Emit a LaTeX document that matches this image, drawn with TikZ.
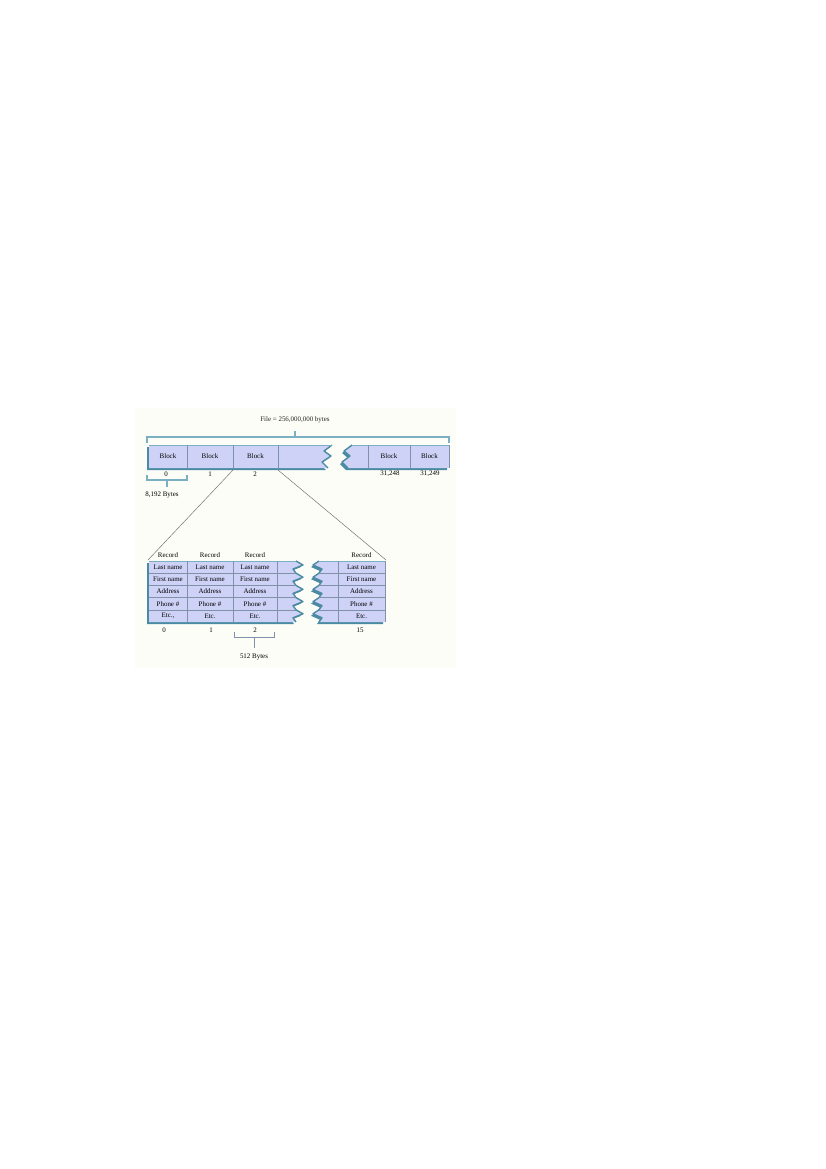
\documentclass[tikz,border=0pt]{standalone}
\usepackage{fontspec}
\setmainfont{Liberation Serif}
\usepackage{xcolor}
\definecolor{paperwhite}{RGB}{253,253,247}
\definecolor{blocklilac}{RGB}{205,210,246}
\definecolor{edgeteal}{RGB}{74,138,163}
\definecolor{braceteal}{RGB}{122,176,194}
\definecolor{gridgray}{RGB}{128,146,170}

\begin{document}
\begin{tikzpicture}[x=0.72pt,y=-0.72pt,font=\fontsize{5}{6}\selectfont]
            \useasboundingbox (0,0) rectangle (826,1169);
            \fill[paperwhite] (135,408) rectangle (456,668);

            % file and its brace
            \node[black!85] (title) at (295,420) {File = 256,000,000 bytes};
            \draw[braceteal,thick] (147,443) -- (147,437) -- (449,437) -- (449,443);
            \draw[braceteal,thick] (295,437) -- (295,431);

            % block row, left part
            \fill[edgeteal] (147,447) -- (330,447) -- (322,453) -- (329,458) -- (320,464) -- (326,470) -- (147,470) -- cycle;
            \fill[blocklilac] (149,445) -- (332,445) -- (324,451) -- (331,456) -- (322,462) -- (328,468) -- (149,468) -- cycle;
            \draw[edgeteal,line width=1pt,line join=round] (332,445) -- (324,451) -- (331,456) -- (322,462) -- (328,468);
            \draw[braceteal] (149,445) -- (332,445);
            \draw[gridgray] (187,445) -- (187,468);
            \draw[gridgray] (233,445) -- (233,468);
            \draw[gridgray] (278,445) -- (278,468);

            % block row, right part
            \fill[edgeteal] (350,447) -- (447,447) -- (447,470) -- (346,470) -- (340,464) -- (348,458) -- (342,453) -- cycle;
            \fill[blocklilac] (352,445) -- (449,445) -- (449,468) -- (348,468) -- (342,462) -- (350,456) -- (344,451) -- cycle;
            \draw[edgeteal,line width=1pt,line join=round] (352,445) -- (344,451) -- (350,456) -- (342,462) -- (348,468);
            \draw[braceteal] (352,445) -- (449,445);
            \draw[gridgray] (368,445) -- (368,468);
            \draw[gridgray] (410,445) -- (410,468);
            \draw[gridgray] (449,445) -- (449,468);

            \node (blk0) at (168,456.5) {Block};
            \node (blk1) at (210,456.5) {Block};
            \node (blk2) at (255.5,456.5) {Block};
            \node (blk31248) at (389,456.5) {Block};
            \node (blk31249) at (429.5,456.5) {Block};

            \node (num0) at (166,474) {0};
            \node (num1) at (210,474) {1};
            \node (num2) at (255,474) {2};
            \node (num31248) at (390,474) {31,248};
            \node (num31249) at (430,474) {31,249};

            % size of one block
            \draw[braceteal,thick] (147,475) -- (147,480) -- (187,480) -- (187,475);
            \draw[braceteal,thick] (167,480) -- (167,487);
            \node (blksize) at (162,495) {8,192 Bytes};

            % zoom lines
            \coordinate (gapa) at (233,470);
            \coordinate (gapb) at (278,470);
            \coordinate (recnw) at (148,560);
            \coordinate (recne) at (386,560);
            \draw[black!55,line width=0.35pt] (gapa) -- (recnw);
            \draw[black!55,line width=0.35pt] (gapb) -- (recne);

            % record table, left part
            \fill[edgeteal,shift={(-2,2)}] (149,561) \foreach \r in {0,...,4} {-- (296,{561+12.2*\r}) -- (303,{565+12.2*\r}) -- (293,{569+12.2*\r})} -- (296,622) -- (149,622) -- cycle;
            \fill[blocklilac] (149,561) \foreach \r in {0,...,4} {-- (296,{561+12.2*\r}) -- (303,{565+12.2*\r}) -- (293,{569+12.2*\r})} -- (296,622) -- (149,622) -- cycle;
            \draw[edgeteal,line width=1pt,line join=round] (296,561) \foreach \r in {0,...,4} {-- (303,{565+12.2*\r}) -- (293,{569+12.2*\r}) -- (296,{573.2+12.2*\r})};
            \draw[braceteal] (149,561) -- (296,561);
            \foreach \r in {1,...,4}
                \draw[gridgray] (149,{561+12.2*\r}) -- (296,{561+12.2*\r});
            \foreach \cx in {187,233,277}
                \draw[gridgray] (\cx,561) -- (\cx,622);

            % record table, right part
            \fill[edgeteal,shift={(-2,2)}] (319,561) -- (385,561) -- (385,622) -- (319,622) \foreach \r in {4,...,0} {-- (322,{569+12.2*\r}) -- (313,{565+12.2*\r}) -- (319,{561+12.2*\r})} -- cycle;
            \fill[blocklilac] (319,561) -- (385,561) -- (385,622) -- (319,622) \foreach \r in {4,...,0} {-- (322,{569+12.2*\r}) -- (313,{565+12.2*\r}) -- (319,{561+12.2*\r})} -- cycle;
            \draw[edgeteal,line width=1pt,line join=round] (319,561) \foreach \r in {0,...,4} {-- (313,{565+12.2*\r}) -- (322,{569+12.2*\r}) -- (319,{573.2+12.2*\r})};
            \draw[braceteal] (319,561) -- (385,561);
            \foreach \r in {1,...,4}
                \draw[gridgray] (319,{561+12.2*\r}) -- (385,{561+12.2*\r});
            \draw[gridgray] (338,561) -- (338,622);
            \draw[gridgray] (385,561) -- (385,622);

            % record texts
            \foreach \cx/\cn in {168/0,210/1,255/2,361.5/15} {
                \node (rec\cn) at (\cx,555) {Record};
                \node (rec\cn last) at (\cx,567.1) {Last name};
                \node (rec\cn first) at (\cx,579.3) {First name};
                \node (rec\cn addr) at (\cx,591.5) {Address};
                \node (rec\cn phone) at (\cx,603.7) {Phone \#};
            }
            \node (rec0etc) at (168,615.9) {Etc.,};
            \node (rec1etc) at (210,615.9) {Etc.};
            \node (rec2etc) at (255,615.9) {Etc.};
            \node (rec15etc) at (361.5,615.9) {Etc.};

            \node (rnum0) at (164,630) {0};
            \node (rnum1) at (211,630) {1};
            \node (rnum2) at (255,630) {2};
            \node (rnum15) at (360,630) {15};

            % size of one record
            \draw[gridgray] (234,632) -- (234,637) -- (274,637) -- (274,632);
            \draw[gridgray] (254,637) -- (254,648);
            \node (recsize) at (254,657) {512 Bytes};
        \end{tikzpicture}
\end{document}
